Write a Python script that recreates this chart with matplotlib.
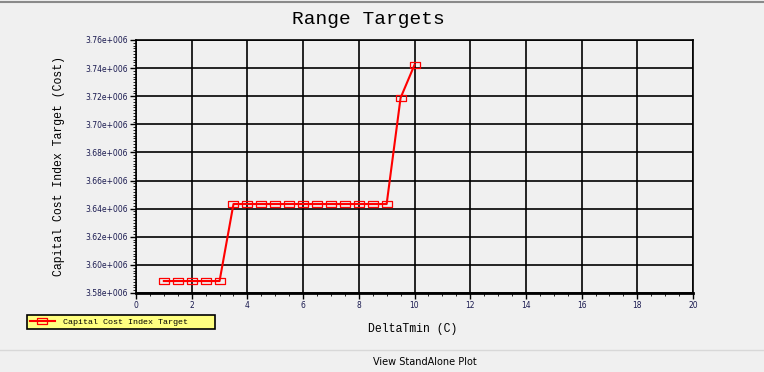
import matplotlib
matplotlib.use("Agg")
import matplotlib.pyplot as plt
from matplotlib.lines import Line2D
from matplotlib.ticker import MultipleLocator, FuncFormatter

# data
delta_tmin = [1.0, 1.5, 2.0, 2.5, 3.0,
              3.5, 4.0, 4.5, 5.0, 5.5, 6.0, 6.5, 7.0, 7.5, 8.0, 8.5, 9.0,
              9.5, 10.0]
cost_target = [3.5885e6, 3.5885e6, 3.5885e6, 3.5885e6, 3.5885e6,
               3.6433e6, 3.6433e6, 3.6433e6, 3.6433e6, 3.6433e6, 3.6433e6,
               3.6433e6, 3.6433e6, 3.6433e6, 3.6433e6, 3.6433e6, 3.6433e6,
               3.7188e6, 3.7423e6]
series_name = "Capital Cost Index Target"

bg = "#f0f0f0"
mono = "Liberation Mono"
W, H = 764.0, 372.0

fig = plt.figure(figsize=(7.64, 3.72), dpi=100, facecolor=bg)
ax = fig.add_axes([136/W, 1-293/H, (693-136)/W, (293-40)/H])
ax.set_facecolor(bg)

# hollow rectangle marker, wider than tall
rect = [(-1.5, -1), (1.5, -1), (1.5, 1), (-1.5, 1), (-1.5, -1)]
ax.plot(delta_tmin, cost_target, color="#ff0000", lw=1.5,
        marker=rect, markersize=6.8, markerfacecolor="none",
        markeredgecolor="#ff0000", markeredgewidth=0.9, label=series_name)

ax.set_xlim(0, 20)
ax.set_ylim(3.58e6, 3.76e6)
ax.xaxis.set_major_locator(MultipleLocator(2))
ax.xaxis.set_minor_locator(MultipleLocator(0.5))
ax.yaxis.set_major_locator(MultipleLocator(0.02e6))
ax.yaxis.set_minor_locator(MultipleLocator(0.002e6))

def sci(v, pos):
    return "%.2fe+006" % (v / 1e6)
ax.yaxis.set_major_formatter(FuncFormatter(sci))

ax.grid(True, which="major", color="black", lw=1.2)
for s in ax.spines.values():
    s.set_color("black")
    s.set_linewidth(1.2)
ax.spines["bottom"].set_linewidth(2)

ax.tick_params(axis="both", which="major", length=4, width=1, labelsize=5.5,
               labelcolor="#1a1a50", direction="out", pad=2)
ax.tick_params(axis="both", which="minor", length=2, width=0.6, direction="out")

ax.set_xlabel("DeltaTmin (C)", fontfamily=mono, fontsize=8.3, va="center")
ax.xaxis.set_label_coords((413-136)/557, -(329-293)/253)
ax.set_ylabel("Capital Cost Index Target (Cost)", fontfamily=mono, fontsize=8.3,
              va="center")
ax.yaxis.set_label_coords(-(136-59)/557, (293-166)/253)
fig.text(368/W, 1-20/H, "Range Targets", fontfamily=mono, fontsize=14,
         ha="center", va="center")

leg = fig.legend(loc="upper left", mode="expand",
                 bbox_to_anchor=(27/W, 1-329/H, 188/W, 14/H),
                 prop={"family": mono, "size": 6}, fancybox=False,
                 facecolor="#ffff80", edgecolor="black", framealpha=1,
                 borderpad=0.35, handlelength=3.0, handletextpad=1.0,
                 borderaxespad=0)
leg.get_frame().set_linewidth(1.2)

# window decorations
fig.add_artist(Line2D([0, 1], [1-2/H, 1-2/H], color="#8a8a8a", lw=1.5))
fig.add_artist(Line2D([0, 1], [1-350/H, 1-350/H], color="#d8d8d8", lw=1))
fig.text(425/W, 1-362/H, "View StandAlone Plot", fontsize=7,
         fontfamily="Liberation Sans Narrow", ha="center", va="center")

fig.savefig("out.png", dpi=100, facecolor=bg)
